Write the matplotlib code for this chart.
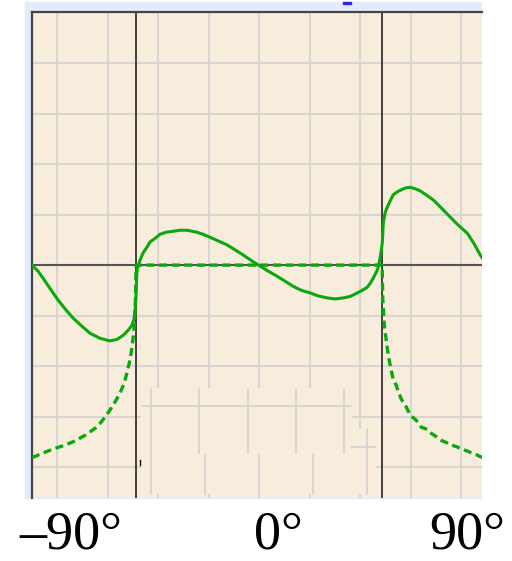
import numpy as np
import matplotlib
matplotlib.use("Agg")
import matplotlib.pyplot as plt
from matplotlib.patches import Rectangle

# angulo critico agua-aire (n = 1.33)
theta_c = 48.75

# curva continua
ang_sol = [-90.0, -87.6, -85.6, -82.9, -79.7, -76.5, -73.7, -70.2, -67.0, -63.0, -59.1,
           -56.3, -53.9, -51.9, -50.4, -49.6, -49.2, -48.8, -48.5, -48.2, -48.0, -47.2,
           -46.0, -44.4, -43.2, -41.2, -39.3, -36.9, -34.1, -31.3, -28.5, -26.6, -24.6,
           -22.2, -19.4, -16.3, -12.7, -9.5, -6.3, -2.8, 0.4, 3.6, 7.1, 10.3, 13.5, 16.7,
           20.2, 23.4, 27.0, 30.1, 33.3, 36.1, 38.9, 40.8, 42.8, 44.0, 45.2, 46.0, 46.8,
           47.2, 48.0, 48.4, 48.8, 49.2, 50.0, 50.8, 51.9, 53.1, 54.7, 56.7, 58.3, 59.9,
           61.9, 63.8, 66.2, 69.0, 72.2, 75.7, 78.9, 82.5, 85.2, 87.6, 88.4]
val_sol = [0.0, -0.12, -0.26, -0.46, -0.69, -0.89, -1.05, -1.21, -1.35, -1.45, -1.50,
           -1.47, -1.39, -1.29, -1.19, -1.07, -0.95, -0.60, -0.20, -0.02, -0.04, 0.10,
           0.24, 0.36, 0.46, 0.53, 0.61, 0.65, 0.67, 0.69, 0.69, 0.67, 0.65,
           0.61, 0.55, 0.48, 0.40, 0.30, 0.20, 0.08, -0.02, -0.12, -0.22, -0.32, -0.42, -0.50,
           -0.55, -0.61, -0.65, -0.67, -0.65, -0.62, -0.55, -0.50, -0.44, -0.36, -0.26, -0.18, -0.10,
           -0.04, 0.16, 0.30, 0.44, 0.85, 1.05, 1.15, 1.27, 1.39, 1.45, 1.50, 1.53, 1.54,
           1.51, 1.47, 1.39, 1.29, 1.13, 0.95, 0.79, 0.63, 0.42, 0.20, 0.14]

# curva discontinua
ang_dash = [-90.0, -85.6, -81.7, -77.3, -73.4, -69.0, -65.0, -63.0, -61.1, -59.1, -57.1,
            -55.1, -53.5, -52.3, -51.1, -50.4, -49.6, -49.0, -48.75,
            48.75, 49.0, 49.6, 50.4, 51.2, 52.3, 53.1, 54.3, 55.1, 56.3, 58.3, 59.9, 62.2,
            64.2, 66.6, 68.2, 70.6, 72.2, 74.5, 76.1, 78.5, 80.1, 82.5, 84.1, 86.4, 88.4]
val_dash = [-3.81, -3.72, -3.64, -3.57, -3.49, -3.37, -3.23, -3.13, -3.01, -2.87, -2.71,
            -2.53, -2.34, -2.12, -1.86, -1.64, -1.29, -0.69, 0.0,
            0.0, -0.69, -1.20, -1.50, -1.80, -2.08, -2.25, -2.38, -2.50, -2.65, -2.81, -2.97, -3.07,
            -3.21, -3.25, -3.33, -3.41, -3.47, -3.52, -3.56, -3.60, -3.64, -3.68, -3.72, -3.76, -3.81]

etiquetas = ["\u201390\u00b0", "0\u00b0", "90\u00b0"]
pos_etiquetas = [19, 254, 429]

W, H = 512, 561
verde = "#0aa80a"
beige = "#f8ecdd"
gris = "#d2d2d2"

fig = plt.figure(figsize=(W / 100, H / 100), dpi=100)
fig.patches.append(Rectangle((25 / W, 1 - 498 / H), (481 - 25) / W, (498 - 2) / H,
                             transform=fig.transFigure, color="#e6ebfb", zorder=-2))
fig.patches.append(Rectangle((343 / W, 1 - 4 / H), 8 / W, 2 / H,
                             transform=fig.transFigure, color="#2a2ae0", zorder=-1))

ax = fig.add_axes([32 / W, 63 / H, 450 / W, 486 / H])
ax.set_zorder(2)
ax.set_facecolor(beige)
ax.set_xlim(-90, 88.3)
ax.set_ylim(-4.61, 5.01)
ax.set_xticks(np.arange(-80, 81, 20))
ax.set_yticks(np.arange(-4, 5, 1))
ax.tick_params(length=0, labelbottom=False, labelleft=False)
ax.grid(True, color=gris, linewidth=1.2)
for s in ["right", "bottom"]:
    ax.spines[s].set_visible(False)
for s in ["left", "top"]:
    ax.spines[s].set_color("#444444")
    ax.spines[s].set_linewidth(1.6)

# panel tapado con su propia rejilla
ax.add_patch(Rectangle((-46.8, -4.53), 36.9 + 46.8, 4.53 - 2.44, color=beige, zorder=1.6, lw=0))
ax.add_patch(Rectangle((36.9, -4.53), 46.4 - 36.9, 4.53 - 3.25, color=beige, zorder=1.6, lw=0))
kw = dict(color=gris, lw=1.2, zorder=1.7)
ax.plot([-42.8, -42.8], [-2.46, -4.53], **kw)
for xv in [-23.8, -4.4, 14.7, 33.7]:
    ax.plot([xv, xv], [-2.46, -3.72], **kw)
for xv in [-21.4, 0, 21.4]:
    ax.plot([xv, xv], [-3.74, -4.53], **kw)
ax.plot([42.8, 42.8], [-3.25, -4.53], **kw)
ax.plot([-46.4, 36.5], [-2.79, -2.79], **kw)
ax.plot([36.5, 46.0], [-3.60, -3.60], **kw)
ax.plot([-47.2, -47.2], [-3.86, -3.96], color="k", lw=1, zorder=1.8)

# ejes
ax.axhline(0, color="#555555", lw=1.5, zorder=2)
ax.axvline(-theta_c, color="#333333", lw=1.3, zorder=2)
ax.axvline(theta_c, color="#333333", lw=1.3, zorder=2)

ax.plot(ang_sol, val_sol, color=verde, lw=2.2, zorder=3, solid_joinstyle="round")
ax.plot(ang_dash, val_dash, color=verde, lw=2.4, zorder=3, dashes=(2.4, 1.4))

for t, px in zip(etiquetas, pos_etiquetas):
    fig.text(px / W, 0.5 / H, t, family="Liberation Serif", fontsize=39,
             ha="left", va="bottom")

fig.savefig("out.png", dpi=100)
